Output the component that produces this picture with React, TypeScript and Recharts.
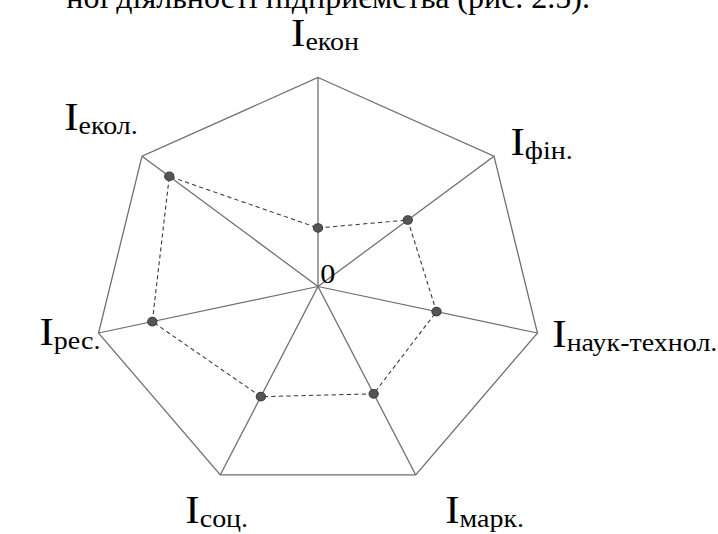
import { PolarAngleAxis, PolarGrid, PolarRadiusAxis, Radar, RadarChart } from 'recharts'

// осі (за годинниковою стрілкою від верху) та підписи-індекси
const indexNames = ['екон', 'фін.', 'наук-технол.', 'марк.', 'соц.', 'рес.', 'екол.']
const indexValues = [0.28, 0.51, 0.54, 0.57, 0.585, 0.755, 0.845]
const radiusTicks = [0, 1]
const captionTail = 'ної діяльності підприємства (рис. 2.5).'

const chartData = indexNames.map((name, i) => ({ name, value: indexValues[i] }))

// зсув підпису відносно кінця осі
const labelShift = [
  [-25, -23],
  [9, 4],
  [6, 12],
  [24, 41],
  [-29, 41],
  [-47, 10],
  [-66, -21],
]

const serif = 'Liberation Serif, DejaVu Serif, serif'

function AxisLabel(props: any) {
  const { x, y, payload, index } = props
  const [dx, dy] = labelShift[index] ?? [0, 0]
  return (
    <text x={x + dx} y={y + dy} fill="#000" style={{ fontFamily: serif }} textAnchor="start">
      <tspan fontSize={40}>I</tspan>
      <tspan fontSize={26} dy={4}>{payload.value}</tspan>
    </text>
  )
}

function ZeroLabel(props: any) {
  const { x, y, payload } = props
  if (payload.value !== 0) return null
  return (
    <text x={x + 2} y={y - 3} fontSize={28} fill="#000" style={{ fontFamily: serif }}>
      0
    </text>
  )
}

function Dot(props: any) {
  const { cx, cy } = props
  return <circle cx={cx} cy={cy} r={4.3} fill="#555" stroke="#3a3a3a" strokeWidth={1} />
}

export default function App() {
  return (
    <div style={{ position: 'absolute', left: 0, top: 0, width: 718, height: 534, background: '#fff', overflow: 'hidden' }}>
      <svg width={718} height={30} style={{ position: 'absolute', left: 0, top: 0 }}>
        <text x={590} y={8} textAnchor="end" fontSize={32} style={{ fontFamily: serif }} fill="#000">
          {captionTail}
        </text>
      </svg>
      <div style={{ position: 'absolute', left: 0, top: 0, transform: 'scaleX(1.077)', transformOrigin: '318px 0' }}>
        <RadarChart width={718} height={534} data={chartData} cx={318} cy={286.5} outerRadius={209} margin={{ top: 0, right: 0, bottom: 0, left: 0 }}>
          <PolarGrid gridType="polygon" stroke="#6e6e6e" strokeWidth={1.2} />
          <PolarRadiusAxis domain={[0, 1]} ticks={radiusTicks as any} tickCount={2} axisLine={false} tick={<ZeroLabel />} />
          <PolarAngleAxis dataKey="name" tick={<AxisLabel />} tickLine={false} axisLine={false} />
          <Radar
            dataKey="value"
            stroke="#333"
            strokeWidth={1}
            strokeDasharray="4 3"
            fill="none"
            fillOpacity={0}
            dot={<Dot />}
            isAnimationActive={false}
          />
        </RadarChart>
      </div>
    </div>
  )
}
